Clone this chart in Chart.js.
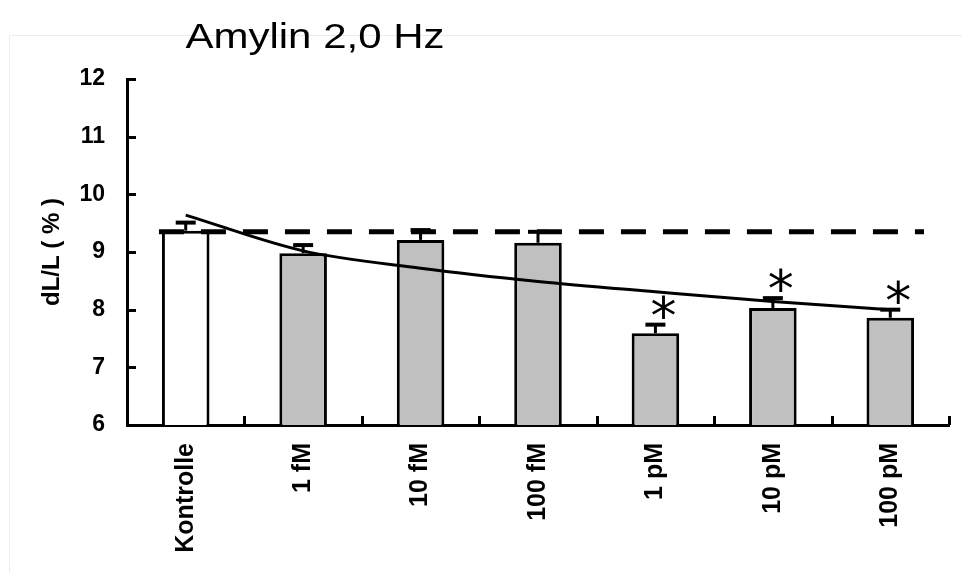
<!DOCTYPE html>
<html>
<head>
<meta charset="utf-8">
<script src="https://cdn.jsdelivr.net/npm/chart.js@4.4.1/dist/chart.umd.min.js"></script>
<style>
  html, body { margin: 0; padding: 0; background: #fff; }
  #wrap { width: 962px; height: 572px; }
</style>
</head>
<body>
<div id="wrap"><canvas id="c" width="962" height="572"></canvas></div>
<script>
// values
const titleText = "Amylin 2,0 Hz";
const axisTitle = "dL/L ( % )";
const categories = ["Kontrolle", "1 fM", "10 fM", "100 fM", "1 pM", "10 pM", "100 pM"];
const means = [9.37, 8.98, 9.21, 9.16, 7.59, 8.03, 7.86];
const sem = [0.14, 0.14, 0.17, 0.19, 0.15, 0.17, 0.14];
const fitCurve = [9.64, 9.02, 8.72, 8.49, 8.31, 8.14, 8.0];
const significant = [false, false, false, false, true, true, true];
const controlLevel = 9.35;
const yTicks = [6, 7, 8, 9, 10, 11, 12];

const FONT = "'Liberation Sans', Arial, sans-serif";
const barFill = categories.map((c, i) => (i === 0 ? "#ffffff" : "#c0c0c0"));

// faint frame round the figure (it is in the scanned original)
const framePlugin = {
  id: "frame",
  beforeDraw(chart) {
    const { ctx, width, height } = chart;
    ctx.save();
    ctx.strokeStyle = "#ececec";
    ctx.lineWidth = 1;
    ctx.beginPath();
    ctx.moveTo(9.5, height);
    ctx.lineTo(9.5, 35.5);
    ctx.lineTo(width, 35.5);
    ctx.stroke();
    ctx.restore();
  },
};

// the title is stretched sideways in the original, so draw it by hand
const titlePlugin = {
  id: "stretchTitle",
  afterDraw(chart) {
    const { ctx } = chart;
    ctx.save();
    ctx.translate(315, 48);
    ctx.scale(1.2, 1);
    ctx.font = `35px ${FONT}`;
    ctx.fillStyle = "#000";
    ctx.textAlign = "center";
    ctx.textBaseline = "alphabetic";
    ctx.fillText(titleText, 0, 0);
    ctx.restore();
  },
};

// inward tick marks on both axes
const innerTicks = {
  id: "innerTicks",
  afterDraw(chart) {
    const { ctx, chartArea, scales } = chart;
    ctx.save();
    ctx.strokeStyle = "#000";
    ctx.lineWidth = 3;
    ctx.beginPath();
    yTicks.forEach((v) => {
      const py = Math.round(scales.y.getPixelForValue(v)) + 0.5;
      ctx.moveTo(chartArea.left, py);
      ctx.lineTo(chartArea.left + 9, py);
    });
    for (let k = 1; k <= categories.length; k++) {
      const px = Math.round(scales.x.getPixelForValue(k - 0.5)) + 0.5;
      ctx.moveTo(px, chartArea.bottom);
      ctx.lineTo(px, chartArea.bottom - 9);
    }
    ctx.stroke();
    ctx.restore();
  },
};

// error bars (upper half only), the dashed control level and the stars
const overlays = {
  id: "overlays",
  afterDatasetsDraw(chart) {
    const { ctx, chartArea, scales } = chart;
    const bars = chart.getDatasetMeta(1).data;
    ctx.save();
    ctx.strokeStyle = "#000";
    ctx.fillStyle = "#000";

    bars.forEach((bar, i) => {
      const top = scales.y.getPixelForValue(means[i] + sem[i]);
      ctx.lineWidth = 3;
      ctx.beginPath();
      ctx.moveTo(bar.x, bar.y);
      ctx.lineTo(bar.x, top);
      ctx.stroke();
      ctx.lineWidth = 4;
      ctx.beginPath();
      ctx.moveTo(bar.x - 10, top);
      ctx.lineTo(bar.x + 10, top);
      ctx.stroke();
    });

    // dashed line at the control level
    const first = bars[0];
    const yc = scales.y.getPixelForValue(controlLevel);
    ctx.lineWidth = 5;
    ctx.setLineDash([25, 17]);
    ctx.beginPath();
    ctx.moveTo(first.x - first.width / 2 - 3, yc);
    ctx.lineTo(chartArea.right - 25, yc);
    ctx.stroke();
    ctx.setLineDash([]);

    // significance stars
    ctx.font = `52px 'DejaVu Sans', sans-serif`;
    ctx.textAlign = "center";
    ctx.textBaseline = "alphabetic";
    const m = ctx.measureText("*");
    const mid = (m.actualBoundingBoxAscent - m.actualBoundingBoxDescent) / 2;
    bars.forEach((bar, i) => {
      if (!significant[i]) return;
      const top = scales.y.getPixelForValue(means[i] + sem[i]);
      ctx.fillText("*", bar.x + 8, top - 18 + mid);
    });
    ctx.restore();
  },
};

new Chart(document.getElementById("c"), {
  type: "bar",
  data: {
    labels: categories,
    datasets: [
      {
        type: "line",
        data: fitCurve,
        borderColor: "#000",
        borderWidth: 3,
        pointRadius: 0,
        fill: false,
        cubicInterpolationMode: "monotone",
        order: 1,
      },
      {
        type: "bar",
        data: means,
        backgroundColor: barFill,
        borderColor: "#000",
        borderWidth: 3,
        borderSkipped: false,
        categoryPercentage: 1,
        barPercentage: 0.405,
        order: 2,
      },
    ],
  },
  options: {
    responsive: false,
    animation: false,
    devicePixelRatio: 1,
    layout: { padding: { top: 79, right: 13, left: 0, bottom: 0 } },
    plugins: { legend: { display: false }, tooltip: { enabled: false } },
    scales: {
      x: {
        offset: true,
        grid: { display: true, drawOnChartArea: false, drawTicks: false, color: "#000" },
        border: { display: true, color: "#000", width: 3 },
        ticks: {
          color: "#000",
          font: { family: FONT, size: 25, weight: "bold" },
          minRotation: 90,
          maxRotation: 90,
          autoSkip: false,
          padding: 18,
        },
        afterFit: (s) => { s.height = 147; },
      },
      y: {
        min: 6,
        max: 12,
        grid: { display: true, drawOnChartArea: false, drawTicks: false, color: "#000" },
        border: { display: true, color: "#000", width: 3 },
        ticks: {
          stepSize: 1,
          color: "#000",
          font: { family: FONT, size: 23, weight: "bold" },
          padding: 22,
        },
        title: {
          display: true,
          text: axisTitle,
          color: "#000",
          font: { family: FONT, size: 24, weight: "bold" },
          padding: { top: 38, bottom: 0 },
        },
        afterFit: (s) => { s.width = 127; },
      },
    },
  },
  plugins: [framePlugin, titlePlugin, innerTicks, overlays],
});
</script>
</body>
</html>
